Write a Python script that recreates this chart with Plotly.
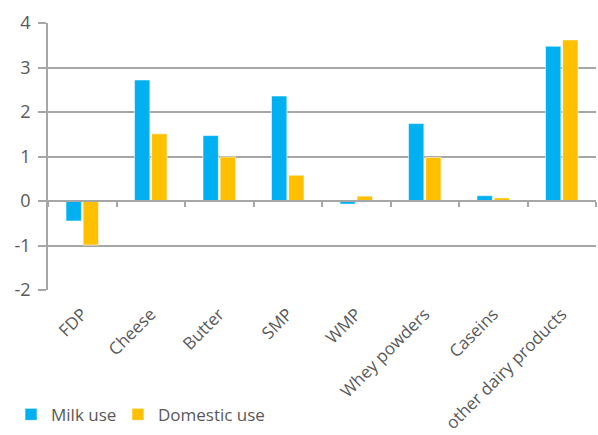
import plotly.graph_objects as go

categories = ["FDP", "Cheese", "Butter", "SMP", "WMP", "Whey powders", "Caseins", "other dairy products"]
milk_use = [-0.45, 2.72, 1.47, 2.36, -0.07, 1.74, 0.12, 3.48]
domestic_use = [-0.99, 1.51, 0.99, 0.58, 0.11, 0.98, 0.07, 3.62]
y_ticks = [-2, -1, 0, 1, 2, 3, 4]
y_labels = ["-2", "-1", "0", "1", "2", "3", "4"]

BLUE = "#00B0F0"
GOLD = "#FFC000"
GREY = "#A6A6A6"
TXT = "#595959"
FONT = "Open Sans"

fig = go.Figure()
fig.add_trace(go.Bar(x=categories, y=milk_use, name="Milk use", legend="legend", showlegend=True,
                     marker=dict(color=BLUE, line=dict(color="rgba(255,255,255,0.6)", width=1))))
fig.add_trace(go.Bar(x=categories, y=domestic_use, name="Domestic use", legend="legend2", showlegend=True,
                     marker=dict(color=GOLD, line=dict(color="rgba(255,255,255,0.6)", width=1))))
# empty trace so the category axis drawn along zero (x2) exists
fig.add_trace(go.Scatter(x=[], y=[], xaxis="x2", yaxis="y2", showlegend=False, hoverinfo="skip"))

leg = dict(orientation="h", xanchor="left", y=-0.40, yanchor="top",
           font=dict(size=17, color=TXT), bgcolor="rgba(0,0,0,0)")

fig.update_layout(
    width=598, height=435,
    margin=dict(l=48, r=2, t=23, b=145, autoexpand=False),
    paper_bgcolor="white", plot_bgcolor="white",
    font=dict(family=FONT, color=TXT, size=15),
    barmode="group", bargap=0.5, bargroupgap=0.1,
    showlegend=True,
    legend=dict(leg, x=-0.0675),
    legend2=dict(leg, x=0.1277),
    xaxis=dict(showline=False, ticks="", showgrid=False, tickangle=-45, automargin=False,
               ticklabelstandoff=10, ticklabelshift=0,
               tickfont=dict(family=FONT, size=17, color=TXT)),
    xaxis2=dict(overlaying="x", anchor="free", position=1/3, type="linear", automargin=False,
                range=[-0.5, 7.5], tickvals=[i - 0.5 for i in range(len(categories) + 1)],
                showticklabels=False, ticks="outside", ticklen=5, tickwidth=2, tickcolor=GREY,
                showline=True, linecolor=GREY, linewidth=2, showgrid=False, zeroline=False),
    yaxis=dict(range=[-2, 4], tickvals=y_ticks, ticktext=y_labels, automargin=False,
               showgrid=True, gridcolor=GREY, gridwidth=1.5,
               zeroline=False, showline=True, linecolor=GREY, linewidth=1.5,
               ticks="outside", ticklen=8, tickcolor=GREY, tickwidth=1.5,
               ticklabelstandoff=4, tickfont=dict(family=FONT, size=18, color=TXT)),
    yaxis2=dict(overlaying="y", range=[-2, 4], showticklabels=False, showgrid=False,
                showline=False, ticks="", zeroline=False, automargin=False),
)

# page body has a default 8px margin; drop it so the figure sits at the window corner
fig.write_html("out.html", config={"displayModeBar": False},
               post_script="document.body.style.margin='0px';")
